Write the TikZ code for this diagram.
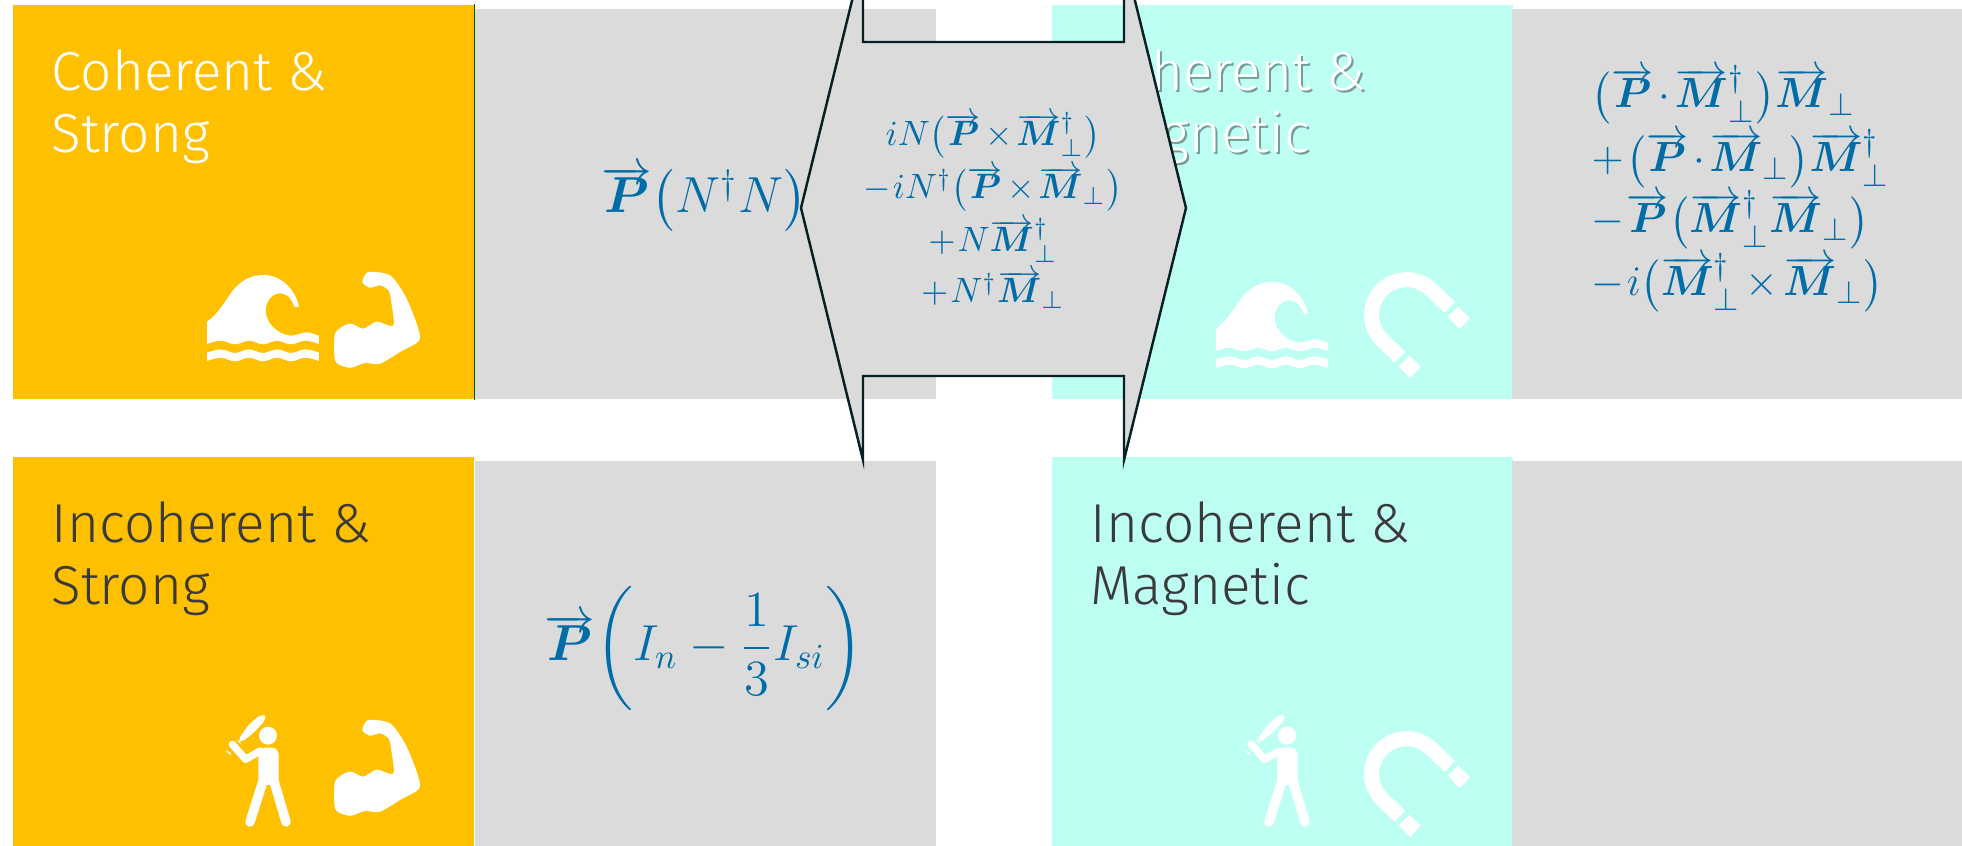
\documentclass[tikz,border=0pt]{standalone}
\usepackage{amsmath,amssymb}
\usepackage{fontspec}
\usepackage{tikz}
\newfontfamily\titlefont{Fira Sans Light}
\newcommand{\Pvec}{\overrightarrow{\raisebox{0pt}[0.56em]{$\boldsymbol{P}$}}}
\newcommand{\Mvec}{\overrightarrow{\raisebox{0pt}[0.56em]{$\boldsymbol{M}$}}}
\newcommand{\tightmath}{\medmuskip=2mu\relax\thinmuskip=1mu\relax}
\definecolor{strongorange}{RGB}{255,192,0}
\definecolor{magmint}{RGB}{189,255,242}
\definecolor{eqgrey}{RGB}{219,219,219}
\definecolor{eqblue}{RGB}{0,108,168}
\definecolor{darktext}{RGB}{58,58,58}
\definecolor{calloutline}{RGB}{8,32,36}
\tikzset{
  panel/.style={anchor=north west, inner sep=0pt, minimum width=4.61cm},
  strongbox/.style={panel, fill=strongorange, minimum height=3.94cm},
  magbox/.style={panel, fill=magmint, minimum height=3.94cm},
  eqbox/.style={panel, fill=eqgrey, minimum height=3.90cm},
  titletext/.style={anchor=base west, inner sep=0pt, align=left,
                    font=\titlefont\fontsize{15.6}{17.9}\selectfont},
  mainlabel/.style={anchor=base, inner sep=0pt, text=eqblue, font=\fontsize{14.7}{18}\selectfont},
  listlabel/.style={anchor=base west, inner sep=0pt, text=eqblue,
                    font=\fontsize{12.4}{16}\selectfont, execute at begin node=\tightmath},
  calloutlabel/.style={anchor=base, inner sep=0pt, text=eqblue,
                    font=\fontsize{10}{14}\selectfont, execute at begin node=\tightmath},
  callout/.style={draw=calloutline, fill=eqgrey, line width=0.7pt, line join=miter},
  wavepic/.pic={
    \fill[white] (0,140) .. controls (30,120) and (50,85) .. (75,50)
      .. controls (105,12) and (135,0) .. (170,0)
      .. controls (220,0) and (262,40) .. (275,90)
      .. controls (277,98) and (262,100) .. (260,90)
      .. controls (252,68) and (240,55) .. (218,55)
      .. controls (195,55) and (176,80) .. (176,107)
      .. controls (176,145) and (215,180) .. (252,182)
      .. controls (270,182) and (280,172) .. (300,172)
      .. controls (312,172) and (325,180) .. (336,182)
      -- plot[smooth,tension=0.6] coordinates
        {(336,207) (294,197) (252,208) (210,197) (168,208) (126,197) (84,208) (42,197) (0,207)}
      -- cycle;
    \fill[white] plot[smooth,tension=0.6] coordinates
        {(0,233) (42,223) (84,234) (126,223) (168,234) (210,223) (252,234) (294,223) (336,233)}
      -- plot[smooth,tension=0.6] coordinates
        {(336,258) (294,248) (252,259) (210,248) (168,259) (126,248) (84,259) (42,248) (0,258)}
      -- cycle;
  },
  armpic/.pic={
    \fill[white] plot[smooth cycle,tension=0.45] coordinates
      {(0,185) (35,157) (55,157) (85,170) (125,149) (175,160) (168,85) (160,55) (135,40)
       (105,47) (82,30) (100,0) (165,10) (210,70) (245,155) (253,205) (195,240) (135,275)
       (90,273) (50,287) (25,283) (0,265)};
  },
  batterpic/.pic={
    \fill[white] (264,167) circle (27);
    \fill[white,rounded corners=1.5pt] (172,183) -- (205,135) -- (246,100) -- (262,113)
      -- (222,158) -- (180,190) -- cycle;
    \draw[white,line width=0.073cm,line cap=round,line join=round] (157,193) -- (197,238) -- (240,213);
    \draw[white,line width=0.015cm,line cap=round] (141,213) -- (151,222);
    \fill[white,rounded corners=2pt] (235,203) -- (296,203) -- (296,315) -- (235,315) -- cycle;
    \draw[white,line width=0.095cm,line cap=round] (250,300) -- (210,426);
    \draw[white,line width=0.095cm,line cap=round] (281,300) -- (318,426);
  },
  magnetpic/.pic={
    \draw[white,line width=0.15cm] (749,172) -- (695,120)
      arc[start angle=-45,end angle=-225,radius=105.6] -- (600,322);
    \fill[white] (775,170) -- (810,205) -- (778,237) -- (744,200) -- cycle;
    \fill[white] (628,317) -- (662,350) -- (630,384) -- (596,350) -- cycle;
  },
}

\begin{document}
\begin{tikzpicture}[x=0.01cm,y=-0.01cm]
  \clip (0,0) rectangle (1962,846);
  % panels
  \node[strongbox] (cohstrong) at (12,4) {};
  \node[eqbox] (cohstrongeq) at (474,8) {};
  \node[magbox] (cohmag) at (1051,4) {};
  \node[eqbox, minimum width=4.51cm] (cohmageq) at (1511,8) {};
  \node[strongbox, minimum height=3.90cm] (incstrong) at (12,456) {};
  \node[eqbox, minimum height=3.86cm] (incstrongeq) at (474,460) {};
  \node[magbox, minimum height=3.90cm] (incmag) at (1051,456) {};
  \node[eqbox, minimum width=4.51cm, minimum height=3.86cm] (incmageq) at (1511,460) {};
  \draw[green!35!black, line width=0.4pt] (cohstrong.north east) -- (cohstrong.south east);
  % titles
  \node[titletext, text=white] (cohstrongtitle) at (51,153) {Coherent \&\\Strong};
  \node[titletext, text=darktext] (incstrongtitle) at (51,605) {Incoherent \&\\Strong};
  \node[titletext, text=magmint!62!black] (cohmagshade) at (1092,155) {Coherent \&\\Magnetic};
  \node[titletext, text=white] (cohmagtitle) at (1090,153) {Coherent \&\\Magnetic};
  \node[titletext, text=darktext] (incmagtitle) at (1090,605) {Incoherent \&\\Magnetic};
  % icons
  \pic[scale=1/3] at (207,275) {wavepic};
  \pic[scale=1/3] at (335,272) {armpic};
  \pic[scale=1/3] at (1216,282) {wavepic};
  \pic[scale=1/3] at (1200,250) {magnetpic};
  \pic[scale=1/3] at (180,680) {batterpic};
  \pic[scale=1/3] at (335,720) {armpic};
  \pic[scale=1/3] at (1199,680) {batterpic};
  \pic[scale=1/3] at (1200,709) {magnetpic};
  % callout over the middle
  \draw[callout] (801,208) -- (863,460) -- (863,376) -- (1124,376) -- (1124,460) -- (1186,208)
    -- (1124,-44) -- (1124,42) -- (863,42) -- (863,-44) -- cycle;
  % equations
  \node[mainlabel] (cohstrongmath) at (704,213) {$\Pvec\bigl(N^{\dagger}N\bigr)$};
  \node[mainlabel] (incstrongmath) at (704,661) {$\Pvec\!\left(I_n-\dfrac{1}{3}I_{si}\right)$};
  \node[calloutlabel] (calla) at (993,146) {$iN\bigl(\Pvec\times\Mvec_{\perp}^{\dagger}\bigr)$};
  \node[calloutlabel] (callb) at (993,199) {$-\,iN^{\dagger}\bigl(\Pvec\times\Mvec_{\perp}\bigr)$};
  \node[calloutlabel] (callc) at (993,252) {$+\,N\Mvec_{\perp}^{\dagger}$};
  \node[calloutlabel] (calld) at (993,303) {$+\,N^{\dagger}\Mvec_{\perp}$};
  \node[listlabel] (lista) at (1591,108) {$\bigl(\Pvec\cdot\Mvec_{\perp}^{\dagger}\bigr)\Mvec_{\perp}$};
  \node[listlabel] (listb) at (1591,172) {$+\,\bigl(\Pvec\cdot\Mvec_{\perp}\bigr)\Mvec_{\perp}^{\dagger}$};
  \node[listlabel] (listc) at (1591,233) {$-\,\Pvec\bigl(\Mvec_{\perp}^{\dagger}\Mvec_{\perp}\bigr)$};
  \node[listlabel] (listd) at (1591,296) {$-\,i\bigl(\Mvec_{\perp}^{\dagger}\times\Mvec_{\perp}\bigr)$};
\end{tikzpicture}
\end{document}
